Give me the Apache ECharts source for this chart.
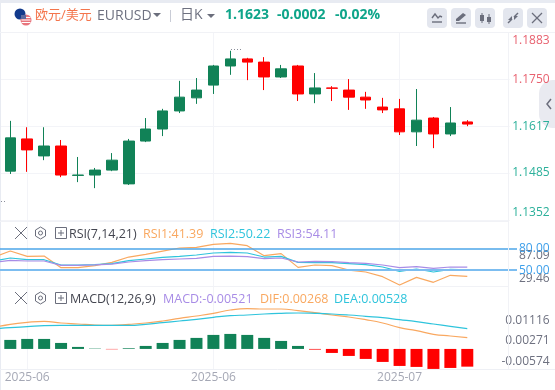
<!DOCTYPE html>
<html><head><meta charset="utf-8">
<style>html,body{margin:0;padding:0;background:#fff}#c{width:555px;height:390px}</style>
<script src="https://cdn.jsdelivr.net/npm/echarts@6/dist/echarts.min.js"></script>
</head><body><div id="c"></div>
<script>
const dates = ['2025-06-02','2025-06-03','2025-06-04','2025-06-05','2025-06-06','2025-06-09','2025-06-10','2025-06-11','2025-06-12','2025-06-13','2025-06-16','2025-06-17','2025-06-18','2025-06-19','2025-06-20','2025-06-23','2025-06-24','2025-06-25','2025-06-26','2025-06-27','2025-06-30','2025-07-01','2025-07-02','2025-07-03','2025-07-04','2025-07-07','2025-07-08','2025-07-09','2025-07-10','2025-07-11','2025-07-14'];
const labelledDates = [2, 13, 24];
const opens  = [1.1500,1.1490,1.1581,1.1533,1.1561,1.1478,1.1479,1.1493,1.1454,1.1575,1.1609,1.1660,1.1697,1.1733,1.1787,1.1807,1.1798,1.1756,1.1787,1.1708,1.1725,1.1719,1.1699,1.1671,1.1666,1.1601,1.1640,1.1595,1.1629];
const closes = [1.1570,1.1584,1.1550,1.1561,1.1479,1.1479,1.1493,1.1521,1.1575,1.1609,1.1660,1.1699,1.1719,1.1787,1.1807,1.1798,1.1756,1.1779,1.1708,1.1725,1.1724,1.1699,1.1691,1.1663,1.1601,1.1634,1.1595,1.1626,1.1623];
const lows   = [1.1405,1.1482,1.1488,1.1521,1.1473,1.1459,1.1442,1.1490,1.1451,1.1572,1.1589,1.1654,1.1680,1.1708,1.1762,1.1747,1.1719,1.1753,1.1688,1.1682,1.1688,1.1663,1.1666,1.1654,1.1592,1.1561,1.1555,1.1589,1.1617];
const highs  = [1.1590,1.1632,1.1614,1.1614,1.1578,1.1530,1.1499,1.1541,1.1581,1.1640,1.1666,1.1745,1.1753,1.1790,1.1830,1.1810,1.1812,1.1790,1.1790,1.1767,1.1730,1.1750,1.1714,1.1697,1.1694,1.1722,1.1643,1.1671,1.1634];
const rsi1 = [67.7,76.4,69.1,69.5,53.4,53.4,56.1,60.8,68.1,71.8,76.4,80.6,81.5,85.7,87.09,83.8,70.0,72.8,53.8,57.1,56.1,50.1,47.4,40.9,29.46,40.0,33.1,42.8,41.39];
const rsi2 = [62.6,66.8,64.4,64.4,57.1,57.1,57.5,58.9,63.1,65.4,67.7,69.1,70.9,73.7,74.6,73.7,68.1,69.1,60.8,60.3,60.3,58.9,57.5,54.3,48.3,51.5,47.4,51.1,50.22];
const rsi3 = [60.8,63.5,62.6,62.6,56.6,56.6,57.3,58.4,61.2,63.1,64.4,65.4,66.3,69.1,69.5,68.6,65.8,66.8,61.2,62.1,61.7,60.3,59.4,57.1,53.4,54.8,52.4,54.3,54.11];
const macd = [.00235,.00265,.00294,.00294,.00176,.00059,.00010,-.00010,.00020,.00088,.00176,.00265,.00324,.00412,.00441,.00412,.00324,.00235,.00088,-.00020,-.00118,-.00206,-.00294,-.00382,-.00500,-.00529,-.00588,-.00559,-.00521];
const dif  = [.00559,.00657,.00716,.00745,.00696,.00667,.00637,.00627,.00657,.00696,.00755,.00833,.00902,.0098,.01078,.01118,.01108,.01108,.01059,.01,.00931,.00873,.00794,.00696,.00559,.00471,.00363,.00314,.00268];
const dea  = [.0052,.00559,.00588,.00618,.00627,.00627,.00627,.00627,.00627,.00657,.00706,.00755,.00804,.00863,.00912,.00931,.00961,.0098,.0099,.0098,.00961,.00931,.00892,.00853,.00794,.00735,.00667,.00598,.00528];
const priceTicks = [1.1352,1.1485,1.1617,1.1750,1.1883];
const rsiLevels = [50,80];
const rsiTicks = [29.46,58.37,87.09];
const macdTicks = [-0.00574,0.00271,0.01116];

const F = '"Open Sans","Noto Sans CJK SC",sans-serif';
const UP='#118257', DOWN='#ff0000', ORANGE='#f9a860', CYAN='#2fc4dc', PURPLE='#a88ce6', GRID='#f3f4f8', TEAL='#0fa58a', ICON='#6b6e7c';
const candles = opens.map((o,i)=>[o,closes[i],lows[i],highs[i]]);
const shown = (i)=>labelledDates.includes(i);

const L = -15.1, W = 524.7;
const g0 = {left:L,width:W,outerBoundsMode:'none',containLabel:false};
const grids = [{...g0,top:32,height:188},{...g0,top:221,height:65},{...g0,top:286,height:83},
  {left:0,width:517,outerBoundsMode:'none',containLabel:false,top:221,height:65}];
const xAxes = [0,1,2].map(g=>({type:'category',gridIndex:g,data:dates,axisLine:{show:false},axisTick:{show:false},
  axisLabel:{show:g===2,interval:(i)=>shown(i),formatter:(v)=>v.slice(0,7),color:'#a5a8b5',fontSize:12,fontFamily:F,margin:3},
  splitLine:{show:true,alignWithLabel:true,interval:(i)=>shown(i),lineStyle:{color:GRID,width:1}}}));
xAxes.push({type:'category',gridIndex:3,data:dates,show:false});
const hidden = {axisLine:{show:false},axisTick:{show:false},splitLine:{show:false}};
const lab = {margin:40,align:'right',fontSize:12,fontFamily:F,showMinLabel:true,showMaxLabel:true,hideOverlap:false,padding:[2,0,0,0]};
const yAxes = [
 {type:'value',gridIndex:0,position:'right',min:1.1352,max:1.1883,...hidden,
  splitLine:{show:true,lineStyle:{color:GRID,width:1}},
  axisTick:{show:false,customValues:priceTicks},
  axisLabel:{...lab,customValues:priceTicks,lineHeight:14,verticalAlignMinLabel:'bottom',verticalAlignMaxLabel:'top',
    formatter:(v)=>v.toFixed(4),color:(v)=>v>1.17?'#e8616f':'#2bb09a'}},
 {type:'value',gridIndex:1,position:'right',min:12,max:173,...hidden,
  axisTick:{show:false,customValues:rsiTicks},
  axisLabel:{...lab,lineHeight:8,customValues:rsiTicks,color:'#6e7180',formatter:(v)=>v.toFixed(2)}},
 {type:'value',gridIndex:1,position:'right',min:28,max:118,...hidden,
  axisTick:{show:false,customValues:rsiLevels},
  axisLabel:{...lab,customValues:rsiLevels,color:'#3d9fea',formatter:(v)=>v.toFixed(2)}},
 {type:'value',gridIndex:2,position:'right',min:-.0059,max:.0185,show:false,...hidden},
 {type:'value',gridIndex:2,position:'right',min:-.00657,max:.01784,show:false,...hidden},
 {type:'value',gridIndex:2,position:'right',min:-.00896,max:.02526,...hidden,
  axisTick:{show:false,customValues:macdTicks},
  axisLabel:{...lab,customValues:macdTicks,color:'#6e7180',formatter:(v)=>v.toFixed(5)}},
 {type:'value',gridIndex:3,min:28,max:118,show:false}
];
const ln = (name,data,color,x,y,smooth)=>({name,type:'line',data,xAxisIndex:x,yAxisIndex:y,symbol:'none',smooth:!!smooth,silent:true,
  lineStyle:{color,width:1.2},itemStyle:{color}});
const extreme = (coord,text,offset)=>({coord,value:text,symbol:'none',symbolSize:0,label:{show:true,formatter:text,color:'#8a8d99',fontSize:12,fontFamily:F,position:'right',offset}});
const series = [
 {name:'K',type:'candlestick',data:candles,xAxisIndex:0,yAxisIndex:0,barWidth:11,silent:true,
  itemStyle:{color:UP,color0:DOWN,borderColor:UP,borderColor0:DOWN,borderWidth:1},
  markPoint:{silent:true,animation:false,data:[extreme([14,1.1830],'1.1830',[12,1]),extreme([0,1.1405],'1.1405',[12,4])]}},
 {name:'levels',type:'line',xAxisIndex:3,yAxisIndex:6,data:[],z:30,silent:true,symbol:'none',
  markLine:{silent:true,animation:false,symbol:'none',label:{show:false},data:[
    {yAxis:rsiLevels[1],lineStyle:{color:'#4da6e8',width:1.5,type:'solid'}},
    {yAxis:rsiLevels[0],lineStyle:{color:'#7cbdf0',width:2,type:'solid'}}]}},
 ln('RSI1',rsi1,ORANGE,1,2),
 ln('RSI2',rsi2,CYAN,1,2),
 ln('RSI3',rsi3,PURPLE,1,2),
 {name:'MACD',type:'bar',data:macd,xAxisIndex:2,yAxisIndex:3,barWidth:12,silent:true,itemStyle:{color:(p)=>p.value<0?DOWN:UP}},
 ln('DIF',dif,ORANGE,2,4,true),
 ln('DEA',dea,CYAN,2,4,true)
];
// chrome
const G=[];
const t=(x,y,s,c,o={})=>G.push({type:'text',x,y,z:20,silent:true,style:{text:s,fill:c,font:`${o.w||'normal'} ${o.s||12}px ${F}`,textVerticalAlign:'middle',textAlign:o.a||'left'}});
const l=(x1,y1,x2,y2,c,w=1,z=20)=>G.push({type:'line',z,silent:true,shape:{x1,y1,x2,y2},style:{stroke:c,lineWidth:w}});
const r=(x,y,w,h,c,rad=0,z=1)=>G.push({type:'rect',z,silent:true,shape:{x,y,width:w,height:h,r:rad},style:{fill:c}});
const tri=(x,y,c)=>G.push({type:'polygon',z:20,silent:true,shape:{points:[[x-4,y-2],[x+4,y-2],[x,y+2]]},style:{fill:c}});
r(0,0,555,3,'#e8ebf2'); r(0,0,1,390,'#e8ebf2');
l(0,32.5,555,32.5,'#f1f2f6'); l(0,221.5,508,221.5,'#f1f2f6'); l(0,286.5,508,286.5,'#f1f2f6'); l(0,369.5,555,369.5,'#eef0f5');
l(508.5,32,508.5,369,'#f1f2f6',1,6);
G.push({type:'rect',z:-1,silent:true,shape:{x:539,y:80,width:16,height:48,r:[14,0,0,14]},style:{fill:'#e9eaf0'}});
G.push({type:'polyline',z:20,silent:true,shape:{points:[[551,99],[547,104],[551,109]]},style:{stroke:ICON,fill:null,lineWidth:1.5}});
// flags
G.push({type:'circle',z:20,silent:true,shape:{cx:20,cy:14,r:5.5},style:{fill:'#123a8c'}});
G.push({type:'circle',z:21,silent:true,shape:{cx:26,cy:20,r:5.5},style:{fill:'#e8747c'}});
[17.5,20,22.5].forEach(y=>l(21.5,y,30.5,y,'#fff',1,22));
G.push({type:'rect',z:22,silent:true,shape:{x:21,y:15,width:5,height:4},style:{fill:'#5a6aa0'}});
t(35,15,'欧元/美元','#f4754c',{s:13});
t(97,16,'EURUSD','#6e7180',{s:14}); tri(157,15,ICON);
l(170.5,10,170.5,22,'#c9ccd6');
t(180,15,'日K','#6e7180',{s:14}); tri(211,16,ICON);
t(225,15,'1.1623',TEAL,{s:14,w:'bold'}); t(277,15,'-0.0002',TEAL,{s:14,w:'bold'}); t(335,15,'-0.02%',TEAL,{s:14,w:'bold'});
[427,451,475,503,527].forEach(x=>r(x,8,20,20,'#e3e6ee',4,2));
// button icons
G.push({type:'polyline',z:20,silent:true,shape:{points:[[432,18],[435,14],[438,18],[440,16],[442,17]]},style:{stroke:ICON,fill:null,lineWidth:1.4}});
l(432,22,442,22,ICON,1.4);
G.push({type:'polygon',z:20,silent:true,shape:{points:[[456,19],[463,13],[466,15],[459,21],[456,21]]},style:{fill:ICON}});
l(456,23,466,23,ICON,1.4);
l(482,13,482,23,ICON,1); r(480,15,4,6,ICON,0,20); l(489,14,489,24,ICON,1); r(487,17,4,5,ICON,0,20);
l(508,23,512,19,ICON,1.4); l(514,17,518,13,ICON,1.4);
G.push({type:'polygon',z:20,silent:true,shape:{points:[[512,16],[512,20],[508,20]]},style:{fill:ICON}});
G.push({type:'polygon',z:20,silent:true,shape:{points:[[514,16],[518,16],[514,20]]},style:{fill:ICON}});
l(532,13,542,23,ICON,1.2); l(542,13,532,23,ICON,1.2);
// dotted leaders of the extreme labels
l(231,49.5,242,49.5,'#8a8d99',1); G[G.length-1].style.lineDash=[1,2];
l(1,201.5,5,201.5,'#8a8d99',1); G[G.length-1].style.lineDash=[1,2];
// indicator header rows
const row=(y)=>{
  l(15,y-6,27,y+6,ICON,1); l(27,y-6,15,y+6,ICON,1);
  G.push({type:'polygon',z:20,silent:true,shape:{points:[[40.5,y-6],[45.5,y-3],[45.5,y+3],[40.5,y+6],[35.5,y+3],[35.5,y-3]]},style:{stroke:ICON,fill:null,lineWidth:1}});
  G.push({type:'circle',z:20,silent:true,shape:{cx:40.5,cy:y,r:2},style:{stroke:ICON,fill:null,lineWidth:1}});
  G.push({type:'rect',z:20,silent:true,shape:{x:55.5,y:y-5.5,width:11,height:11},style:{stroke:ICON,fill:null,lineWidth:1}});
  l(58,y,64,y,ICON); l(61,y-3,61,y+3,ICON);
};
row(233); row(298);
const H={s:12.5};
t(69,234,'RSI(7,14,21)','#444650',H);
t(143,234,'RSI1:41.39',ORANGE,H); t(210,234,'RSI2:50.22',CYAN,H); t(277,234,'RSI3:54.11',PURPLE,H);
t(70,299,'MACD(12,26,9)','#444650',H);
t(163,299,'MACD:-0.00521',PURPLE,H); t(260,299,'DIF:0.00268',ORANGE,H); t(334,299,'DEA:0.00528',CYAN,H);

const chart = echarts.init(document.getElementById('c'),null,{renderer:'canvas'});
chart.setOption({animation:false,backgroundColor:'#fff',grid:grids,xAxis:xAxes,yAxis:yAxes,series,graphic:{elements:G}});
</script></body></html>
